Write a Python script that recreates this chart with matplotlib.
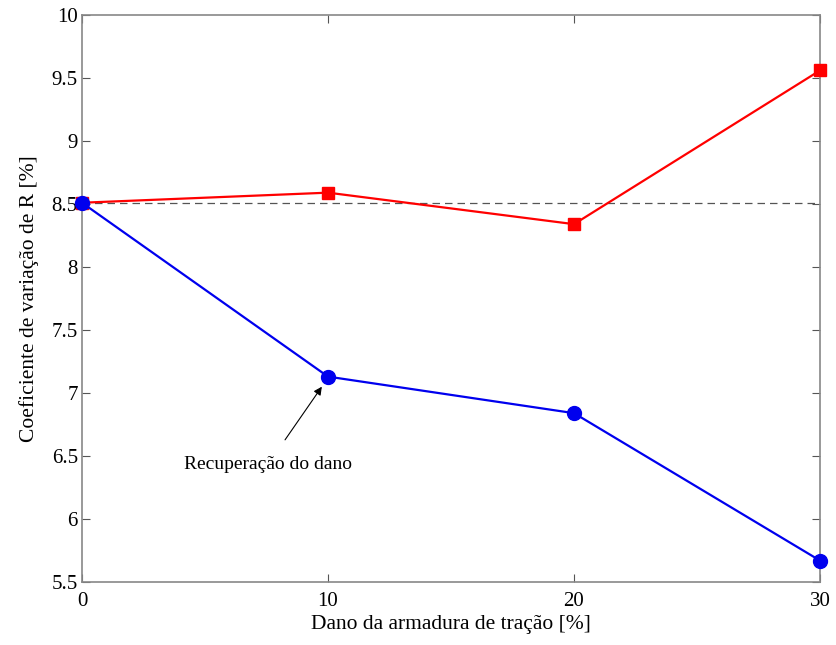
import matplotlib
matplotlib.use('Agg')
import matplotlib.pyplot as plt

# Data
dano = [0, 10, 20, 30]
cv_vermelho = [8.51, 8.59, 8.34, 9.56]
cv_azul = [8.51, 7.13, 6.84, 5.67]
referencia = 8.51

xticks = [0, 10, 20, 30]
yticks = [5.5, 6, 6.5, 7, 7.5, 8, 8.5, 9, 9.5, 10]
ytick_labels = ['5.5', '6', '6.5', '7', '7.5', '8', '8.5', '9', '9.5', '10']

plt.rcParams['font.family'] = ['Liberation Serif', 'DejaVu Serif']

fig = plt.figure(figsize=(8.36, 6.45), dpi=100, facecolor='white')
ax = fig.add_axes([82 / 836, 1 - 582 / 645, 738 / 836, 567 / 645])

ax.plot([dano[0], dano[-1]], [referencia, referencia], '--', color='#555555', lw=0.9, dashes=(6, 4))
ax.plot(dano, cv_vermelho, '-s', color='#ff0000', lw=1.6, ms=9, mec='#ff0000', mfc='#ff0000', clip_on=False, zorder=3)
ax.plot(dano, cv_azul, '-o', color='#0000ee', lw=1.6, ms=10, mec='#0000ee', mfc='#0000ee', clip_on=False, zorder=4)

ax.annotate('Recuperação do dano', xy=(9.75, 7.05), xytext=(7.55, 6.43),
            ha='center', va='center', fontsize=14,
            arrowprops=dict(arrowstyle='-|>', color='black', lw=0.8, shrinkA=12, shrinkB=0,
                            mutation_scale=12))

ax.set_xlim(0, 30)
ax.set_ylim(5.5, 10)
ax.set_xticks(xticks)
ax.set_yticks(yticks)
ax.set_yticklabels(ytick_labels)
ax.tick_params(direction='in', top=True, right=True, length=6, width=0.8, color='#555555',
               labelsize=15)
ax.tick_params(axis='x', pad=7)
ax.tick_params(axis='y', pad=3)
for sp in ax.spines.values():
  sp.set_color('#888888')
  sp.set_linewidth(1.2)

ax.set_xlabel('Dano da armadura de tração [%]', fontsize=15.5, labelpad=3)
ax.set_ylabel('Coeficiente de variação de R [%]', fontsize=15.5, labelpad=9)

fig.savefig('out.png', dpi=100, facecolor='white')
